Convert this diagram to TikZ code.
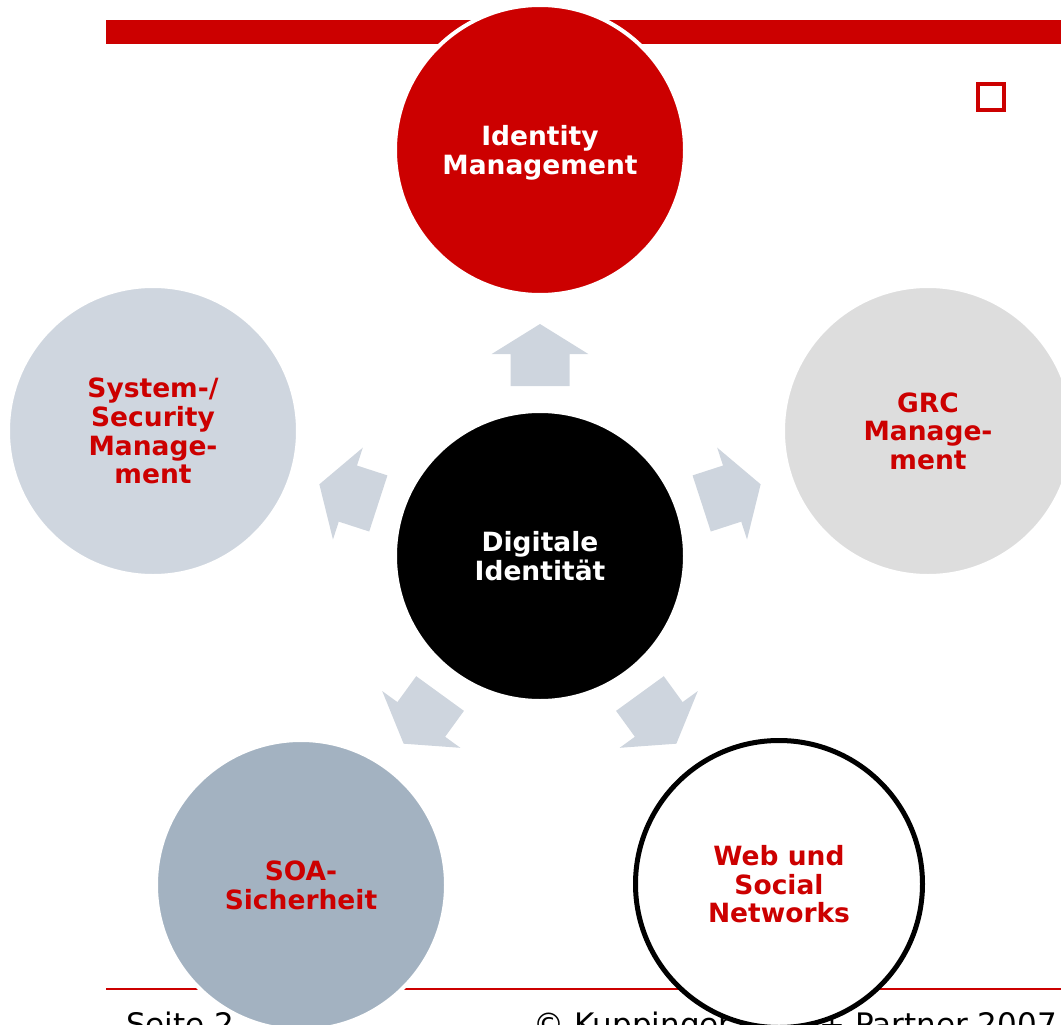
\documentclass[tikz,border=0pt]{standalone}
\usepackage{fontspec}
\setmainfont{DejaVu Sans}
\definecolor{brandred}{RGB}{204,0,0}
\definecolor{paleblue}{RGB}{207,214,223}
\definecolor{palegrey}{RGB}{221,221,221}
\definecolor{steelblue}{RGB}{163,178,193}
\definecolor{arrowgrey}{RGB}{206,213,222}
\begin{document}
\begin{tikzpicture}[x=1pt,y=-1pt,
  topic/.style={circle,minimum size=290pt,inner sep=0pt,draw=white,line width=4pt,
    align=center,text depth=0pt,font=\bfseries\fontsize{26.5}{28.7}\selectfont,text=brandred},
  blockarrow/.style={fill=arrowgrey,draw=none},
  footer/.style={anchor=base west,inner sep=0pt,font=\fontsize{31}{36}\selectfont,text=black}]
\useasboundingbox (0,0) rectangle (1061,1025);
\clip (0,0) rectangle (1061,1025);

% footer line and texts
\node[footer] (page) at (126,1035) {Seite 2};
\node[footer] (copy) at (533,1035) {© Kuppinger Cole + Partner 2007};
\fill[brandred] (106,987.8) rectangle (1061,990.3);

% header bar and marker square
\fill[brandred] (106,20) rectangle (1061,44);
\draw[brandred,line width=4pt] (978,84) rectangle (1004,110);

% block arrows around the centre
\coordinate (c) at (540,556);
\foreach \ang in {0,72,-72,144,-144}{
  \begin{scope}[shift={(c)},rotate=\ang]
    \fill[blockarrow] (0,-232) -- (48.3,-202) -- (29.5,-202) -- (29.5,-170)
      -- (-29.5,-170) -- (-29.5,-202) -- (-48.3,-202) -- cycle;
  \end{scope}
}

% topic circles
\node[topic,fill=black,text=white] (core) at (c) {Digitale\\Identität};
\node[topic,fill=brandred,text=white] (idm) at (540,150) {Identity\\Management};
\node[topic,fill=paleblue] (sys) at (153,431) {System-/\\Security\\Manage-\\ment};
\node[topic,fill=palegrey] (grc) at (928,431) {GRC\\Manage-\\ment};
\node[topic,fill=steelblue] (soa) at (301,885) {SOA-\\Sicherheit};
\node[topic,fill=white,draw=black,line width=5pt,minimum size=287pt] (web) at (779,884) {Web und\\Social\\Networks};
\end{tikzpicture}
\end{document}
